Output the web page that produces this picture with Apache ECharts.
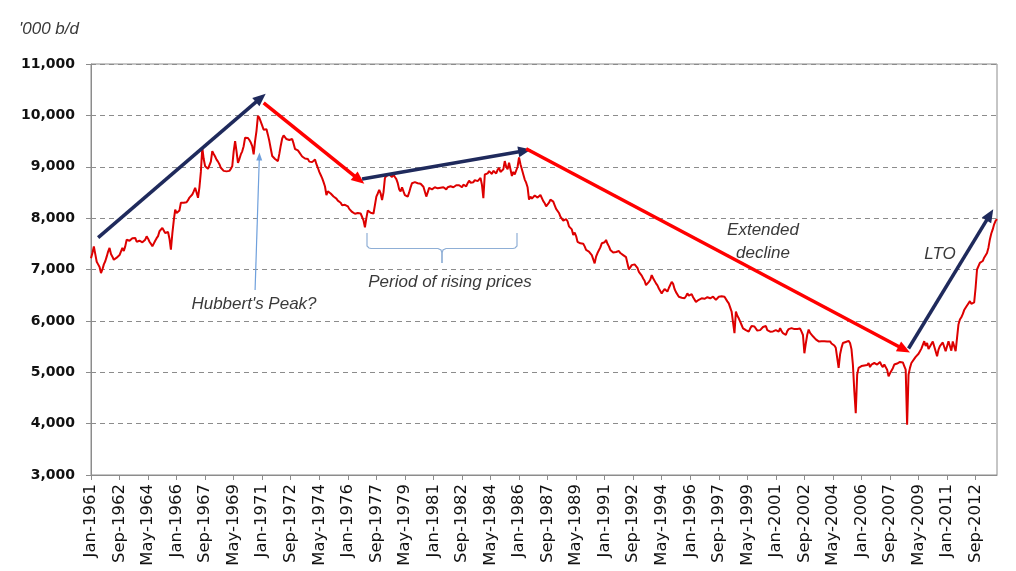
<!DOCTYPE html>
<html>
<head>
<meta charset="utf-8">
<script src="https://cdn.jsdelivr.net/npm/echarts@6/dist/echarts.min.js"></script>
<style>
html,body{margin:0;padding:0;background:#fff;}
#c{width:1016px;height:571px;}
</style>
</head>
<body>
<div id="c"></div>
<script>
// US crude oil production, '000 b/d, monthly Jan-1961 .. Dec-2013
const monthNames = ['Jan','Feb','Mar','Apr','May','Jun','Jul','Aug','Sep','Oct','Nov','Dec'];
const firstYear = 1961;

const prod1960s = [
  7220, 7320, 7450, 7300, 7150, 7100, 7050, 6930, 7000, 7100, 7160, 7250, // 1961
  7350, 7420, 7300, 7250, 7190, 7200, 7230, 7255, 7280, 7300, 7420, 7360, // 1962
  7450, 7580, 7550, 7560, 7550, 7610, 7600, 7615, 7540, 7515, 7560, 7550, // 1963
  7530, 7500, 7580, 7645, 7600, 7540, 7500, 7450, 7480, 7560, 7610, 7650, // 1964
  7745, 7780, 7810, 7760, 7710, 7740, 7730, 7600, 7385, 7700, 7950, 8165, // 1965
  8100, 8070, 8150, 8300, 8320, 8300, 8330, 8310, 8350, 8400, 8420, 8460, // 1966
  8520, 8590, 8500, 8395, 8600, 8900, 9370, 9150, 9010, 8980, 8960, 8950, // 1967
  9100, 9305, 9250, 9200, 9140, 9100, 9050, 8980, 8950, 8920, 8915, 8910, // 1968
  8915, 8920, 8960, 9010, 9300, 9500, 9300, 9075, 9150, 9240, 9300, 9400  // 1969
];
const prod1970s = [
  9565, 9550, 9560, 9520, 9470, 9400, 9240, 9500, 9700, 9990, 9950, 9920, // 1970
  9800, 9720, 9700, 9730, 9620, 9500, 9350, 9210, 9180, 9150, 9125, 9110, // 1971
  9250, 9410, 9550, 9610, 9580, 9540, 9530, 9520, 9510, 9540, 9450, 9345, // 1972
  9360, 9320, 9280, 9250, 9200, 9180, 9160, 9190, 9150, 9100, 9080, 9090, // 1973
  9080, 9140, 9050, 8980, 8900, 8840, 8780, 8700, 8615, 8450, 8520, 8500, // 1974
  8480, 8460, 8420, 8400, 8380, 8340, 8320, 8300, 8250, 8270, 8260, 8250, // 1975
  8230, 8180, 8150, 8120, 8110, 8085, 8090, 8100, 8110, 8090, 8070, 7955, // 1976
  7820, 8000, 8150, 8130, 8105, 8110, 8090, 8100, 8420, 8480, 8550, 8480, // 1977
  8350, 8500, 8780, 8820, 8840, 8850, 8820, 8800, 8850, 8800, 8760, 8680, // 1978
  8560, 8520, 8600, 8520, 8450, 8430, 8420, 8500, 8600, 8680, 8715, 8700  // 1979
];
const prod1980s = [
  8690, 8680, 8650, 8670, 8690, 8610, 8580, 8420, 8500, 8590, 8570, 8560, // 1980
  8580, 8600, 8620, 8580, 8560, 8590, 8620, 8600, 8580, 8560, 8600, 8620, // 1981
  8620, 8650, 8600, 8610, 8640, 8660, 8640, 8620, 8600, 8650, 8640, 8620, // 1982
  8680, 8730, 8690, 8660, 8700, 8740, 8750, 8720, 8700, 8780, 8650, 8390, // 1983
  8850, 8820, 8870, 8915, 8880, 8860, 8920, 8950, 8870, 8940, 8980, 8900, // 1984
  8880, 8950, 9110, 9000, 8950, 9080, 9100, 8820, 8900, 8850, 8870, 9000, // 1985
  9180, 9050, 8950, 8850, 8750, 8690, 8600, 8360, 8420, 8380, 8410, 8440, // 1986
  8460, 8400, 8390, 8450, 8430, 8330, 8290, 8230, 8260, 8300, 8360, 8390, // 1987
  8320, 8250, 8180, 8160, 8100, 8030, 7990, 7950, 7930, 7980, 7940, 7840, // 1988
  7850, 7780, 7670, 7720, 7650, 7540, 7520, 7510, 7480, 7500, 7450, 7380  // 1989
];
const prod1990s = [
  7390, 7350, 7330, 7280, 7250, 7120, 7250, 7320, 7350, 7430, 7510, 7480, // 1990
  7530, 7575, 7500, 7450, 7380, 7350, 7330, 7310, 7340, 7370, 7360, 7320, // 1991
  7310, 7280, 7260, 7240, 7215, 7000, 6980, 7085, 7050, 7100, 7090, 7030, // 1992
  6955, 6920, 6880, 6825, 6780, 6695, 6720, 6760, 6800, 6890, 6830, 6800, // 1993
  6730, 6690, 6630, 6580, 6535, 6580, 6620, 6600, 6570, 6640, 6700, 6760, // 1994
  6720, 6620, 6560, 6535, 6470, 6435, 6450, 6470, 6440, 6480, 6535, 6490, // 1995
  6470, 6520, 6460, 6470, 6370, 6400, 6410, 6390, 6440, 6460, 6430, 6440, // 1996
  6460, 6470, 6440, 6460, 6470, 6440, 6410, 6440, 6470, 6450, 6480, 6500, // 1997
  6470, 6440, 6380, 6340, 6370, 6180, 6150, 5760, 6180, 6100, 6050, 5985, // 1998
  5920, 5855, 5830, 5820, 5800, 5790, 5850, 5900, 5920, 5890, 5880, 5810  // 1999
];
const prod2000s = [
  5840, 5820, 5830, 5880, 5850, 5900, 5820, 5800, 5790, 5800, 5795, 5790, // 2000
  5820, 5800, 5790, 5860, 5800, 5760, 5740, 5725, 5800, 5840, 5860, 5860, // 2001
  5860, 5840, 5830, 5840, 5830, 5850, 5790, 5725, 5370, 5560, 5730, 5830, // 2002
  5765, 5740, 5700, 5670, 5640, 5605, 5600, 5610, 5605, 5600, 5605, 5610, // 2003
  5600, 5605, 5600, 5560, 5540, 5520, 5475, 5440, 5085, 5345, 5475, 5570, // 2004
  5600, 5590, 5600, 5610, 5570, 5450, 5150, 4630, 4205, 4955, 5085, 5080, // 2005
  5120, 5150, 5130, 5160, 5140, 5180, 5100, 5150, 5140, 5180, 5215, 5150, // 2006
  5180, 5200, 5140, 5100, 5150, 5140, 5050, 4920, 4980, 5000, 5080, 5150, // 2007
  5185, 5170, 5160, 5200, 5185, 5190, 5120, 5050, 3980, 4950, 5085, 5180, // 2008
  5185, 5260, 5300, 5310, 5360, 5410, 5460, 5475, 5605, 5510, 5570, 5450  // 2009
];
const prod2010s = [
  5500, 5530, 5600, 5605, 5410, 5310, 5440, 5510, 5540, 5580, 5605, 5410, // 2010
  5420, 5605, 5635, 5420, 5600, 5630, 5410, 5670, 5930, 6025, 6070, 6130, // 2011
  6210, 6255, 6300, 6340, 6385, 6330, 6320, 6360, 6645, 7000, 7030, 7130, // 2012
  7150, 7165, 7230, 7260, 7320, 7425, 7585, 7700, 7780, 7880, 7945, 7980  // 2013
];

const production = [].concat(prod1960s, prod1970s, prod1980s, prod1990s, prod2000s, prod2010s);
const categories = production.map((_, i) => monthNames[i % 12] + '-' + (firstYear + Math.floor(i / 12)));

// Trend arrows: [fromIndex, fromValue, toIndex, toValue, colour]
const trendArrows = [
  [5, 7620, 119, 10340, '#1F2A5C'],
  [121, 10242, 188, 8746, '#FF0000'],
  [190, 8760, 304, 9312, '#1F2A5C'],
  [305, 9351, 570, 5443, '#FF0000'],
  [573, 5462, 630, 8063, '#1F2A5C']
];
const peakPointer = [115, 6600, 118, 9200];

const chart = echarts.init(document.getElementById('c'), null, {renderer: 'canvas'});

const markData = trendArrows.map(a => [
  {coord: [a[0], a[1]], lineStyle: {color: a[4], width: 3.5, type: 'solid'}, itemStyle: {color: a[4]}},
  {coord: [a[2], a[3]], itemStyle: {color: a[4]}}
]);

const txt = '#3a3a3a';
const labelFont = 'italic 17px "Liberation Sans"';
const option = {
  animation: false,
  backgroundColor: '#ffffff',
  title: {
    text: "'000 b/d",
    left: 14, top: 16,
    textStyle: {fontFamily: 'Liberation Sans', fontStyle: 'italic', fontWeight: 'normal', fontSize: 17, color: txt}
  },
  grid: {
    left: 91, right: 19, top: 64, bottom: 96,
    show: true, borderColor: '#8c8c8c', borderWidth: 1
  },
  xAxis: {
    type: 'category',
    data: categories,
    boundaryGap: false,
    axisLine: {lineStyle: {color: '#8c8c8c', width: 1}},
    axisTick: {show: true, interval: 19, length: 5, lineStyle: {color: '#8c8c8c'}},
    axisLabel: {
      interval: 19, rotate: 90, margin: 9,
      fontFamily: 'DejaVu Sans', fontSize: 16.5, color: '#111'
    },
    splitLine: {show: false}
  },
  yAxis: {
    type: 'value',
    min: 3000, max: 11000, interval: 1000,
    axisLine: {show: true, lineStyle: {color: '#8c8c8c'}},
    axisTick: {show: true, length: 5, lineStyle: {color: '#8c8c8c'}},
    axisLabel: {
      margin: 16,
      fontFamily: 'DejaVu Sans', fontWeight: 'bold', fontSize: 14, color: '#111',
      formatter: v => v.toLocaleString('en-US')
    },
    splitLine: {show: true, lineStyle: {color: '#8c8c8c', type: [5, 4], width: 1}}
  },
  series: [
    {
      type: 'line',
      data: production,
      showSymbol: false,
      symbol: 'none',
      lineStyle: {color: '#DD0000', width: 2},
      itemStyle: {color: '#DD0000'},
      markLine: {
        silent: true,
        symbol: ['none', 'triangle'],
        symbolSize: [11, 13],
        label: {show: false},
        emphasis: {disabled: true},
        data: markData,
        animation: false
      },
      z: 2
    },
    {
      type: 'line',
      data: [],
      markLine: {
        silent: true,
        symbol: ['none', 'triangle'],
        symbolSize: [6, 8],
        label: {show: false},
        emphasis: {disabled: true},
        lineStyle: {color: '#6FA0DC', width: 1.2, type: 'solid'},
        itemStyle: {color: '#6FA0DC'},
        data: [[{coord: [peakPointer[0], peakPointer[1]]}, {coord: [peakPointer[2], peakPointer[3]]}]],
        animation: false
      }
    }
  ],
  graphic: [
    {
      type: 'polyline', silent: true,
      shape: {points: [[367,233],[367,246],[369,248],[371,248.5],[438,248.5],[441,250],[442,253],[442,263]]},
      style: {fill: null, stroke: '#8FAFD6', lineWidth: 1.2}
    },
    {
      type: 'polyline', silent: true,
      shape: {points: [[442,263],[442,253],[443,250],[446,248.5],[513,248.5],[515,248],[517,246],[517,233]]},
      style: {fill: null, stroke: '#8FAFD6', lineWidth: 1.2}
    },
    {type: 'text', x: 254, y: 304, silent: true, style: {text: "Hubbert's Peak?", fill: txt, font: labelFont, textAlign: 'center', textVerticalAlign: 'middle'}},
    {type: 'text', x: 450, y: 282, silent: true, style: {text: 'Period of rising prices', fill: txt, font: labelFont, textAlign: 'center', textVerticalAlign: 'middle'}},
    {type: 'text', x: 763, y: 230, silent: true, style: {text: 'Extended', fill: txt, font: labelFont, textAlign: 'center', textVerticalAlign: 'middle'}},
    {type: 'text', x: 763, y: 253, silent: true, style: {text: 'decline', fill: txt, font: labelFont, textAlign: 'center', textVerticalAlign: 'middle'}},
    {type: 'text', x: 940, y: 254, silent: true, style: {text: 'LTO', fill: txt, font: labelFont, textAlign: 'center', textVerticalAlign: 'middle'}}
  ]
};
chart.setOption(option);
</script>
</body>
</html>
